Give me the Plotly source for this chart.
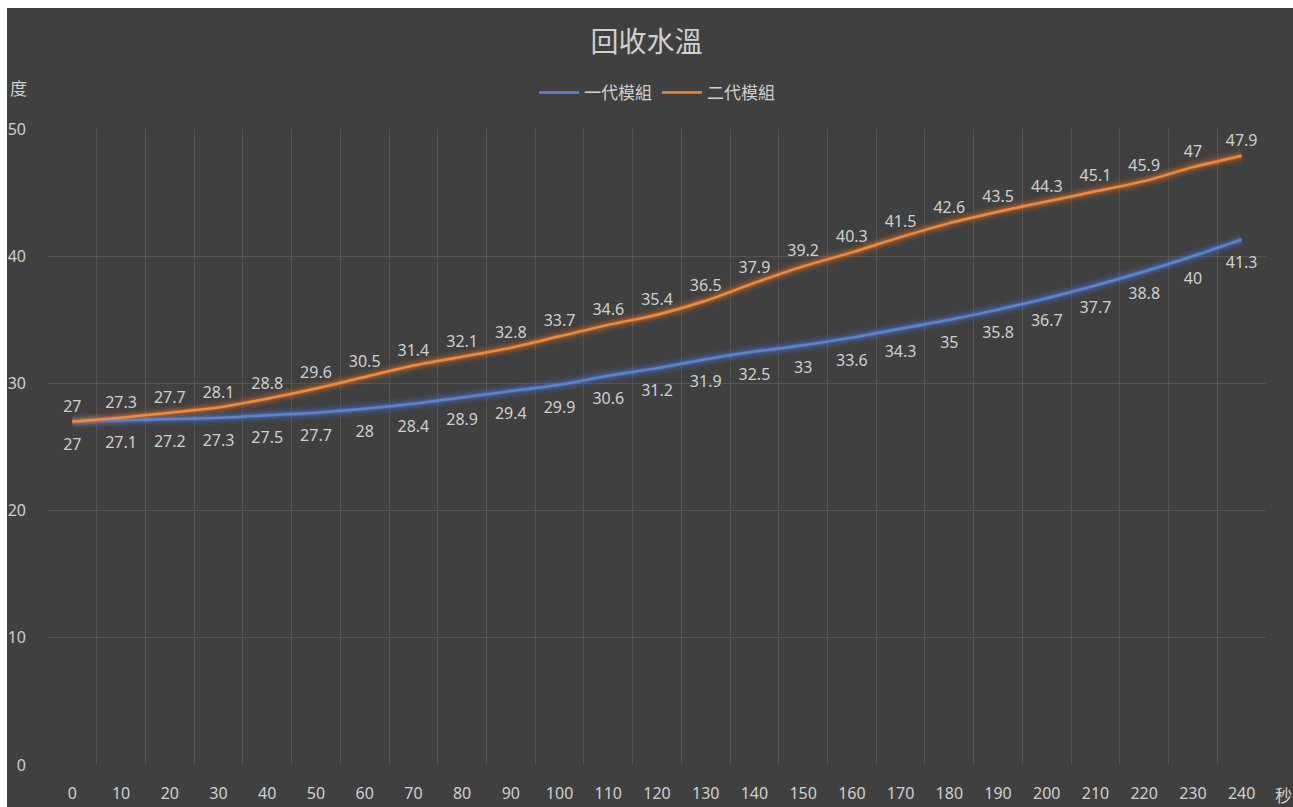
import plotly.graph_objects as go

seconds = list(range(0, 250, 10))
gen1 = [27, 27.1, 27.2, 27.3, 27.5, 27.7, 28, 28.4, 28.9, 29.4, 29.9, 30.6, 31.2,
        31.9, 32.5, 33, 33.6, 34.3, 35, 35.8, 36.7, 37.7, 38.8, 40, 41.3]
gen2 = [27, 27.3, 27.7, 28.1, 28.8, 29.6, 30.5, 31.4, 32.1, 32.8, 33.7, 34.6, 35.4,
        36.5, 37.9, 39.2, 40.3, 41.5, 42.6, 43.5, 44.3, 45.1, 45.9, 47, 47.9]
series_names = ["一代模組", "二代模組"]
title_text = "回收水溫"
y_unit = "度"
x_unit = "秒"

BG = "#404040"
GRID = "#545454"
TXT = "#d0d0d0"
BLUE = "#5a84d2"
ORANGE = "#f08a3c"
FONT = "Noto Sans, Noto Sans CJK TC, sans-serif"

fig = go.Figure()

def glow(y, rgb):
    for w, a in [(14, 0.08), (9, 0.16), (5, 0.30)]:
        fig.add_trace(go.Scatter(x=seconds, y=y, mode="lines",
                                 line=dict(color=f"rgba({rgb},{a})", width=w, shape="spline", smoothing=0.8),
                                 hoverinfo="skip", showlegend=False))

glow(gen1, "80,130,230")
glow(gen2, "240,120,40")

fig.add_trace(go.Scatter(x=seconds, y=gen1, name=series_names[0], mode="lines",
                         line=dict(color=BLUE, width=2.5, shape="spline", smoothing=0.8)))
fig.add_trace(go.Scatter(x=seconds, y=gen2, name=series_names[1], mode="lines",
                         line=dict(color=ORANGE, width=2.5, shape="spline", smoothing=0.8)))

# data labels (transparent markers give the label offset)
fig.add_trace(go.Scatter(x=seconds, y=gen1, mode="markers+text", showlegend=False, hoverinfo="skip",
                         marker=dict(size=24, color="rgba(0,0,0,0)"), cliponaxis=False,
                         text=[f"{v:g}" for v in gen1], textposition="bottom center",
                         textfont=dict(color=TXT, size=16, family=FONT)))
fig.add_trace(go.Scatter(x=seconds, y=gen2, mode="markers+text", showlegend=False, hoverinfo="skip",
                         marker=dict(size=8, color="rgba(0,0,0,0)"), cliponaxis=False,
                         text=[f"{v:g}" for v in gen2], textposition="top center",
                         textfont=dict(color=TXT, size=16, family=FONT)))

W, H = 1293, 807
L, R, T, B = 48, 27, 129, 42
pw, ph = W - L - R, H - T - B

fig.update_layout(
    width=W, height=H,
    margin=dict(l=L, r=R, t=T, b=B, autoexpand=False),
    paper_bgcolor=BG, plot_bgcolor=BG,
    font=dict(family=FONT, color=TXT, size=15),
    title=dict(text=title_text, x=0.5, xanchor="center", y=1 - 42 / H, yanchor="middle",
               font=dict(size=28, color=TXT, family=FONT)),
    legend=dict(orientation="h", x=0.5, xanchor="center", y=1 + 36 / ph, yanchor="middle",
                font=dict(size=17, color=TXT), bgcolor="rgba(0,0,0,0)", itemwidth=40),
    xaxis=dict(range=[-5, 245], tick0=0, dtick=10, showgrid=False, zeroline=False,
               showline=False, ticks="", ticklabelstandoff=17, automargin=False,
               tickfont=dict(size=16, color=TXT),
               minor=dict(tick0=-5, dtick=10, showgrid=True, gridcolor=GRID, gridwidth=1)),
    yaxis=dict(range=[0, 50], dtick=10, showgrid=True, gridcolor=GRID, zeroline=False,
               showline=False, ticks="", ticklabelstandoff=21, automargin=False,
               tickfont=dict(size=16, color=TXT)),
    annotations=[
        dict(text=y_unit, xref="paper", yref="paper", x=-30 / pw, y=1 + 41 / ph,
             xanchor="center", yanchor="middle", showarrow=False,
             font=dict(size=17, color=TXT)),
        dict(text=x_unit, xref="paper", yref="paper", x=1 + 17 / pw, y=-30 / ph,
             xanchor="center", yanchor="middle", showarrow=False,
             font=dict(size=17, color=TXT)),
    ],
    shapes=[
        dict(type="rect", xref="paper", yref="paper", x0=-L / pw, x1=1 + R / pw,
             y0=1 + (T - 8) / ph, y1=1 + T / ph, fillcolor="white", line_width=0),
        dict(type="rect", xref="paper", yref="paper", x0=-L / pw, x1=-(L - 7) / pw,
             y0=-B / ph, y1=1 + T / ph, fillcolor="white", line_width=0),
    ],
)

fig.write_html("out.html")
